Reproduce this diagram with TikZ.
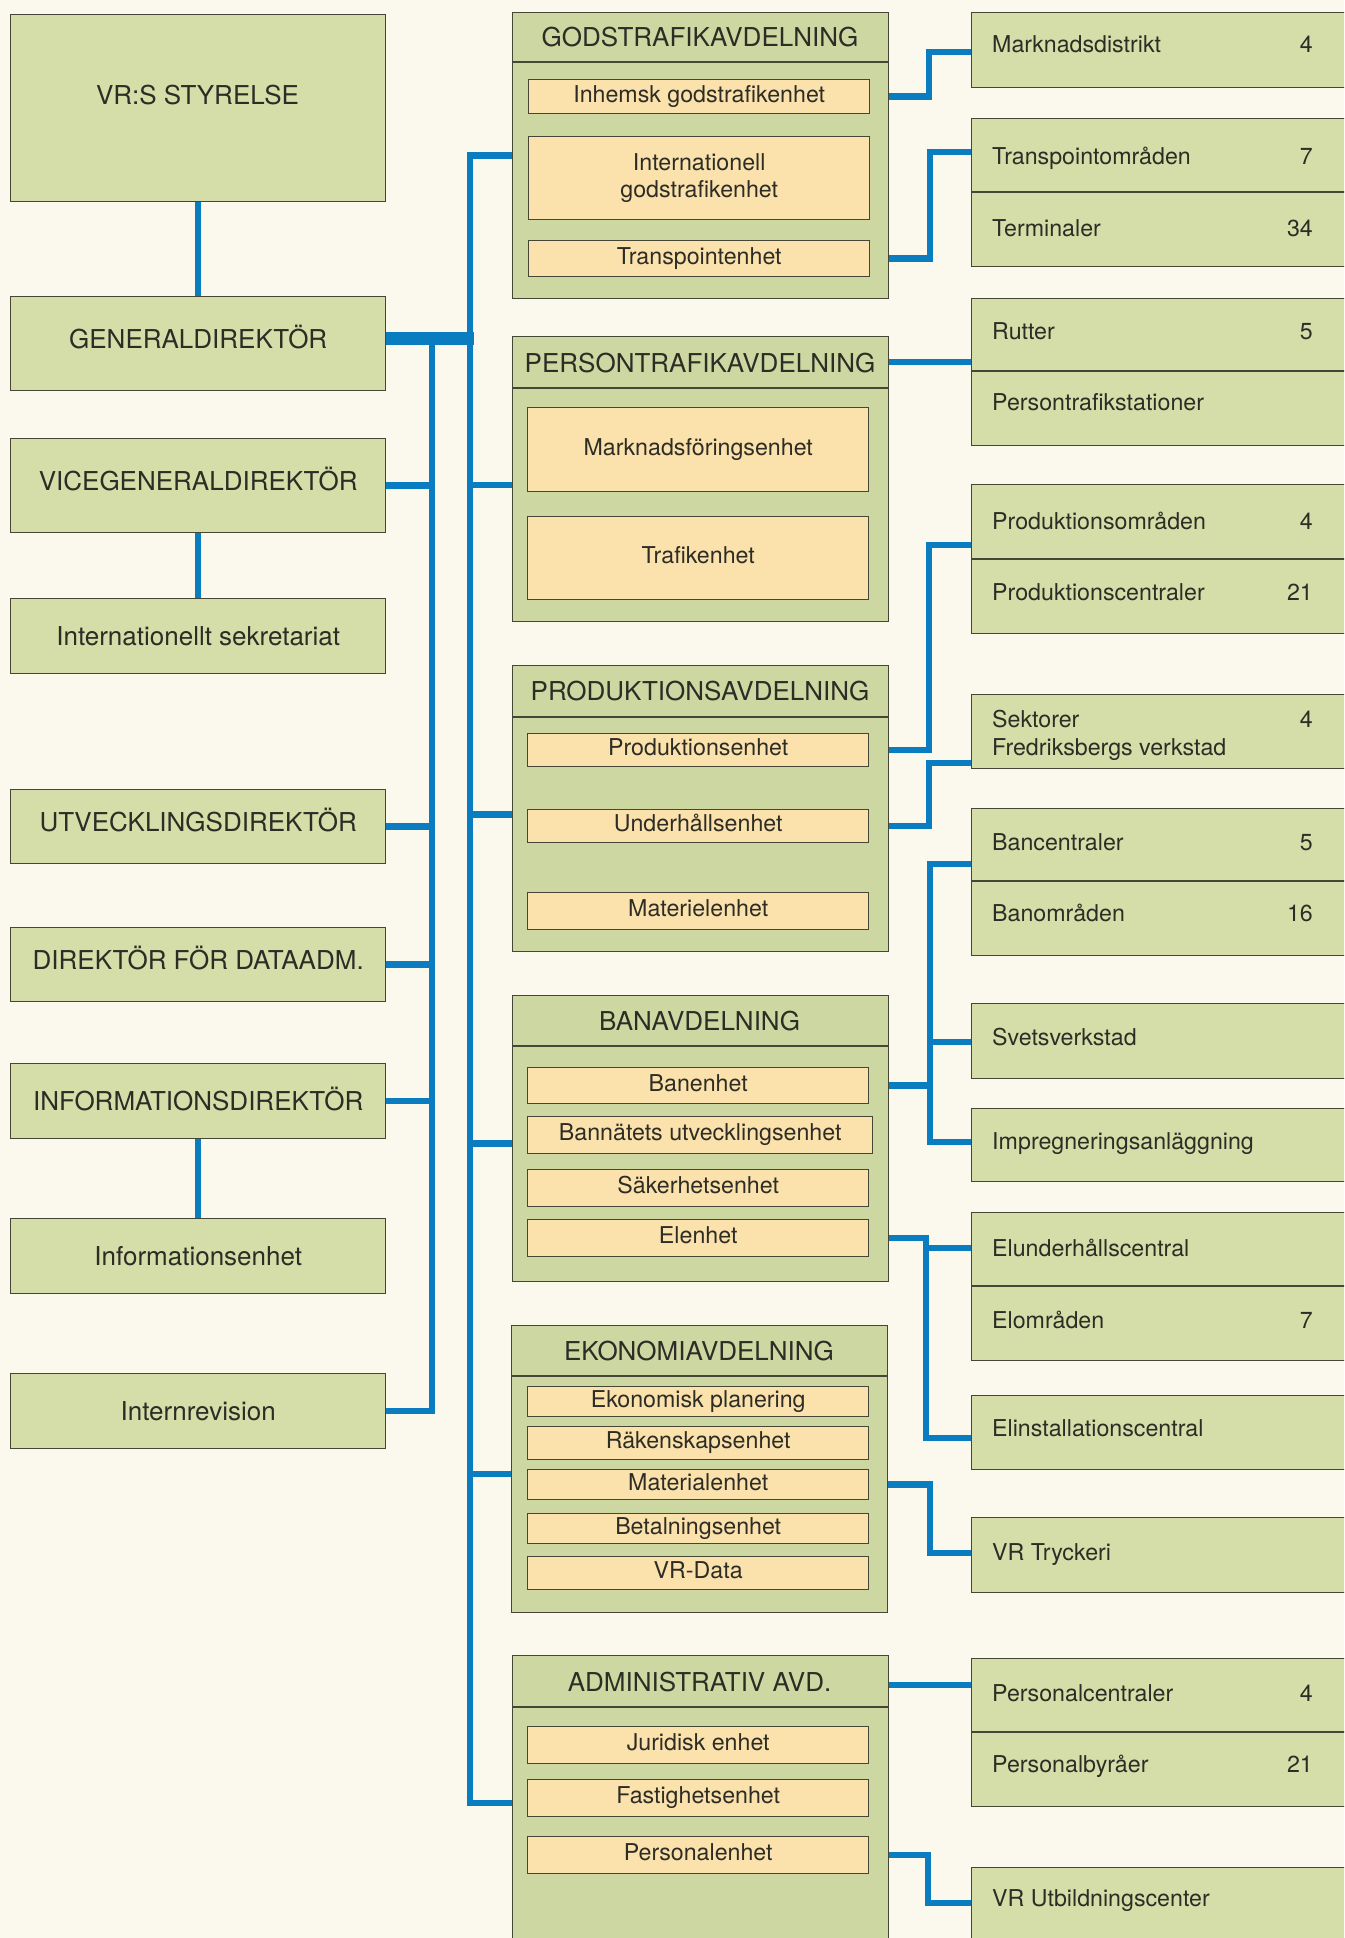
\documentclass[tikz,border=0pt]{standalone}
\usepackage{fontspec}
\setmainfont{TeX Gyre Heros}
\usetikzlibrary{calc}
\definecolor{bgc}{RGB}{251,249,237}
\definecolor{grc}{RGB}{213,221,168}
\definecolor{dgc}{RGB}{205,215,162}
\definecolor{unc}{RGB}{251,225,171}
\definecolor{blc}{RGB}{10,125,192}
\definecolor{lnc}{RGB}{70,70,55}
\definecolor{txc}{RGB}{45,45,38}
\pgfdeclarelayer{bgfill}
\pgfdeclarelayer{conns}
\pgfsetlayers{bgfill,conns,main}
\tikzset{
  box/.style={draw=lnc, line width=1.4pt, fill=grc, inner sep=0pt, anchor=north west, text=txc, align=center},
  big/.style={font=\fontsize{26}{31}\selectfont, text height=18.5pt, text depth=0pt},
  capsup/.style={text depth=8pt},
  smallf/.style={font=\fontsize{23.2}{27}\selectfont},
  small/.style={smallf, text height=16.5pt, text depth=5pt},
  lbox/.style={box, big, minimum width=375pt},
  dept/.style={box, fill=dgc, minimum width=376pt},
  unit/.style={box, small, fill=unc, minimum width=341pt},
  unittwo/.style={box, smallf, fill=unc, minimum width=341pt},
  rbox/.style={box, minimum width=400pt},
  title/.style={big, text=txc, inner sep=0pt},
  lbl/.style={small, anchor=west, text=txc, inner sep=0pt, yshift=-5pt},
  num/.style={small, anchor=east, text=txc, inner sep=0pt, yshift=-5pt},
  divl/.style={draw=lnc, line width=1.4pt},
  conn/.style={draw=blc, line width=6.5pt, line join=miter, line cap=butt},
  bar/.style={draw=blc, line width=13pt, line cap=butt},
}
\begin{document}
\begin{tikzpicture}[x=1pt,y=-1pt]
\useasboundingbox (0,0) rectangle (1344,1938);
\begin{pgfonlayer}{bgfill}
\fill[bgc] (0,0) rectangle (1344,1938);
\end{pgfonlayer}
\clip (0,0) rectangle (1344,1938);

% ---------- left column ----------
\node[lbox, minimum height=187pt] (styr) at (10,14) {};
\node[title] (styrT) at (197.5,95) {VR:S STYRELSE};
\node[lbox, capsup, minimum height=94pt] (gd) at (10,296) {GENERALDIREKTÖR};
\node[lbox, capsup, minimum height=94pt] (vgd) at (10,438) {VICEGENERALDIREKTÖR};
\node[lbox, minimum height=75pt] (isek) at (10,598) {Internationellt sekretariat};
\node[lbox, capsup, minimum height=74pt] (utv) at (10,789) {UTVECKLINGSDIREKTÖR};
\node[lbox, capsup, minimum height=74pt] (data) at (10,927) {DIREKTÖR FÖR DATAADM.};
\node[lbox, minimum height=75pt] (info) at (10,1063) {INFORMATIONSDIREKTÖR};
\node[lbox, minimum height=75pt] (ienh) at (10,1218) {Informationsenhet};
\node[lbox, minimum height=75pt] (irev) at (10,1373) {Internrevision};

% ---------- departments ----------
% Godstrafik
\node[dept, minimum height=286pt] (gods) at (512,12) {};
\node[title] (godsT) at (700,37) {GODSTRAFIKAVDELNING};
\draw[divl] ($(gods.north west)+(0,50)$) -- ($(gods.north east)+(0,50)$);
\node[unit, minimum height=34pt] (inh) at (528,79) {Inhemsk godstrafikenhet};
\node[unittwo, minimum height=83pt] (intg) at (528,136) {Internationell\\godstrafikenhet};
\node[unit, minimum height=36pt] (tpu) at (528,240) {Transpointenhet};
% Persontrafik
\node[dept, minimum height=285pt] (pers) at (512,336) {};
\node[title] (persT) at (700,363) {PERSONTRAFIKAVDELNING};
\draw[divl] ($(pers.north west)+(0,52)$) -- ($(pers.north east)+(0,52)$);
\node[unit, minimum height=84pt] (mfe) at (527,407) {Marknadsföringsenhet};
\node[unit, minimum height=83pt] (tre) at (527,516) {Trafikenhet};
% Produktion
\node[dept, minimum height=286pt] (prod) at (512,665) {};
\node[title] (prodT) at (700,691) {PRODUKTIONSAVDELNING};
\draw[divl] ($(prod.north west)+(0,52)$) -- ($(prod.north east)+(0,52)$);
\node[unit, minimum height=33pt] (pe) at (527,733) {Produktionsenhet};
\node[unit, minimum height=33pt] (uh) at (527,809) {Underhållsenhet};
\node[unit, minimum height=37pt] (me) at (527,892) {Materielenhet};
% Ban
\node[dept, minimum height=286pt] (bana) at (511.5,995) {};
\node[title] (banaT) at (699.5,1021) {BANAVDELNING};
\draw[divl] ($(bana.north west)+(0,51)$) -- ($(bana.north east)+(0,51)$);
\node[unit, minimum height=36pt] (ben) at (527,1067) {Banenhet};
\node[unit, minimum height=37pt, minimum width=345pt] (bnu) at (527,1116) {Bannätets utvecklingsenhet};
\node[unit, minimum height=37pt] (sak) at (527,1169) {Säkerhetsenhet};
\node[unit, minimum height=37pt] (ele) at (527,1219) {Elenhet};
% Ekonomi
\node[dept, minimum height=287pt] (ekon) at (511,1325) {};
\node[title] (ekonT) at (699,1351) {EKONOMIAVDELNING};
\draw[divl] ($(ekon.north west)+(0,51)$) -- ($(ekon.north east)+(0,51)$);
\node[unit, minimum height=30pt] (ekp) at (527,1386) {Ekonomisk planering};
\node[unit, minimum height=33pt] (rak) at (527,1426) {Räkenskapsenhet};
\node[unit, minimum height=30pt] (mat) at (527,1469) {Materialenhet};
\node[unit, minimum height=30pt] (bet) at (527,1513) {Betalningsenhet};
\node[unit, minimum height=33pt] (vrd) at (527,1556) {VR-Data};
% Administrativ
\node[dept, minimum height=330pt] (adm) at (511.5,1655) {};
\node[title] (admT) at (699.5,1682) {ADMINISTRATIV AVD.};
\draw[divl] ($(adm.north west)+(0,52)$) -- ($(adm.north east)+(0,52)$);
\node[unit, minimum height=37pt] (jur) at (527,1726) {Juridisk enhet};
\node[unit, minimum height=37pt] (fas) at (527,1779) {Fastighetsenhet};
\node[unit, minimum height=37pt] (pen) at (527,1836) {Personalenhet};

% ---------- right column ----------
\node[rbox, minimum height=75pt] (md) at (971,12) {};
\node[lbl] (mdL) at (992,42) {Marknadsdistrikt}; \node[num] (mdN) at (1313,42) {4};

\node[rbox, minimum height=148pt] (tp) at (971,118) {};
\draw[divl] ($(tp.north west)+(0,74)$) -- ($(tp.north east)+(0,74)$);
\node[lbl] (tpL1) at (992,154) {Transpointområden}; \node[num] (tpN1) at (1313,154) {7};
\node[lbl] (tpL2) at (992,226) {Terminaler}; \node[num] (tpN2) at (1313,226) {34};

\node[rbox, minimum height=147pt] (rut) at (971,298) {};
\draw[divl] ($(rut.north west)+(0,73)$) -- ($(rut.north east)+(0,73)$);
\node[lbl] (rutL1) at (992,329) {Rutter}; \node[num] (rutN1) at (1313,329) {5};
\node[lbl] (rutL2) at (992,400) {Persontrafikstationer};

\node[rbox, minimum height=149pt] (po) at (971,484) {};
\draw[divl] ($(po.north west)+(0,75)$) -- ($(po.north east)+(0,75)$);
\node[lbl] (poL1) at (992,519) {Produktionsområden}; \node[num] (poN1) at (1313,519) {4};
\node[lbl] (poL2) at (992,590) {Produktionscentraler}; \node[num] (poN2) at (1313,590) {21};

\node[rbox, minimum height=74pt] (sek) at (971,694) {};
\node[lbl] (sekL1) at (992,717) {Sektorer}; \node[num] (sekN1) at (1313,717) {4};
\node[lbl] (sekL2) at (992,745) {Fredriksbergs verkstad};

\node[rbox, minimum height=147pt] (bc) at (971,808) {};
\draw[divl] ($(bc.north west)+(0,73)$) -- ($(bc.north east)+(0,73)$);
\node[lbl] (bcL1) at (992,840) {Bancentraler}; \node[num] (bcN1) at (1313,840) {5};
\node[lbl] (bcL2) at (992,911) {Banområden}; \node[num] (bcN2) at (1313,911) {16};

\node[rbox, minimum height=75pt] (sv) at (971,1003) {};
\node[lbl] (svL) at (992,1035) {Svetsverkstad};

\node[rbox, minimum height=73pt] (imp) at (971,1108) {};
\node[lbl] (impL) at (992,1139) {Impregneringsanläggning};

\node[rbox, minimum height=148pt] (elu) at (971,1212) {};
\draw[divl] ($(elu.north west)+(0,74)$) -- ($(elu.north east)+(0,74)$);
\node[lbl] (eluL1) at (992,1246) {Elunderhållscentral};
\node[lbl] (eluL2) at (992,1318) {Elområden}; \node[num] (eluN2) at (1313,1318) {7};

\node[rbox, minimum height=74pt] (eli) at (971,1395) {};
\node[lbl] (eliL) at (992,1426) {Elinstallationscentral};

\node[rbox, minimum height=75pt] (vrt) at (971,1517) {};
\node[lbl] (vrtL) at (992,1550) {VR Tryckeri};

\node[rbox, minimum height=148pt] (pc) at (971,1658) {};
\draw[divl] ($(pc.north west)+(0,74)$) -- ($(pc.north east)+(0,74)$);
\node[lbl] (pcL1) at (992,1691) {Personalcentraler}; \node[num] (pcN1) at (1313,1691) {4};
\node[lbl] (pcL2) at (992,1762) {Personalbyråer}; \node[num] (pcN2) at (1313,1762) {21};

\node[rbox, minimum height=120pt] (vru) at (971,1867) {};
\node[lbl] (vruL) at (992,1896) {VR Utbildningscenter};

% ---------- connector coordinates ----------
\coordinate (t1) at (432,338);
\coordinate (t2b) at (470,1803);
\coordinate (admin) at (511.5,1803);
\coordinate (gdbar) at (473.5,338);
\coordinate (jA) at (929,0);
\coordinate (jB) at (930,0);
\coordinate (jE) at (926,0);
\coordinate (jF) at (928,0);
\coordinate (mdin) at (971,52);
\coordinate (tpin) at (971,152);
\coordinate (rutin) at (971,362);
\coordinate (poin) at (971,545);
\coordinate (sekin) at (971,763);
\coordinate (bcin) at (971,864);
\coordinate (svin) at (971,1042);
\coordinate (impin) at (971,1142);
\coordinate (eluin) at (971,1248);
\coordinate (eliin) at (971,1438);
\coordinate (vrtin) at (971,1553);
\coordinate (pcin) at (971,1685);
\coordinate (vruin) at (971,1903);

\begin{pgfonlayer}{conns}
% left vertical links
\draw[conn] (styr.south) -- (gd.north);
\draw[conn] (vgd.south) -- (isek.north);
\draw[conn] (info.south) -- (ienh.north);
% trunk 1
\draw[conn] (irev.east) -| (t1);
\draw[conn] (vgd.east) -- (vgd.east -| t1);
\draw[conn] (utv.east) -- (utv.east -| t1);
\draw[conn] (data.east) -- (data.east -| t1);
\draw[conn] (info.east) -- (info.east -| t1);
% main bar
\draw[bar] (gd.east |- gdbar) -- (gdbar);
% trunk 2
\draw[conn] (gods.west) -| (t2b) -- (admin);
\draw[conn] ($(pers.west)+(0,6)$) -- ($(pers.west -| t2b)+(0,6)$);
\draw[conn] ($(prod.west)+(0,6)$) -- ($(prod.west -| t2b)+(0,6)$);
\draw[conn] ($(bana.west)+(0,5)$) -- ($(bana.west -| t2b)+(0,5)$);
\draw[conn] ($(ekon.west)+(0,5)$) -- ($(ekon.west -| t2b)+(0,5)$);
% right side
\draw[conn] (inh.east) -| (jA |- mdin) -- (mdin);
\draw[conn] (tpu.east) -| (jB |- tpin) -- (tpin);
\draw[conn] (pers.east |- rutin) -- (rutin);
\draw[conn] (pe.east) -| (jA |- poin) -- (poin);
\draw[conn] (uh.east) -| (jA |- sekin) -- (sekin);
\draw[conn] (bcin) -| (jB |- impin) -- (impin);
\draw[conn] (ben.east) -- (ben.east -| jB);
\draw[conn] (svin) -- (svin -| jB);
\draw[conn] (ele.east) -| (jE |- eliin) -- (eliin);
\draw[conn] (eluin) -- (eluin -| jE);
\draw[conn] (mat.east) -| (jB |- vrtin) -- (vrtin);
\draw[conn] (adm.east |- pcin) -- (pcin);
\draw[conn] (pen.east) -| (jF |- vruin) -- (vruin);
\end{pgfonlayer}
\end{tikzpicture}
\end{document}
